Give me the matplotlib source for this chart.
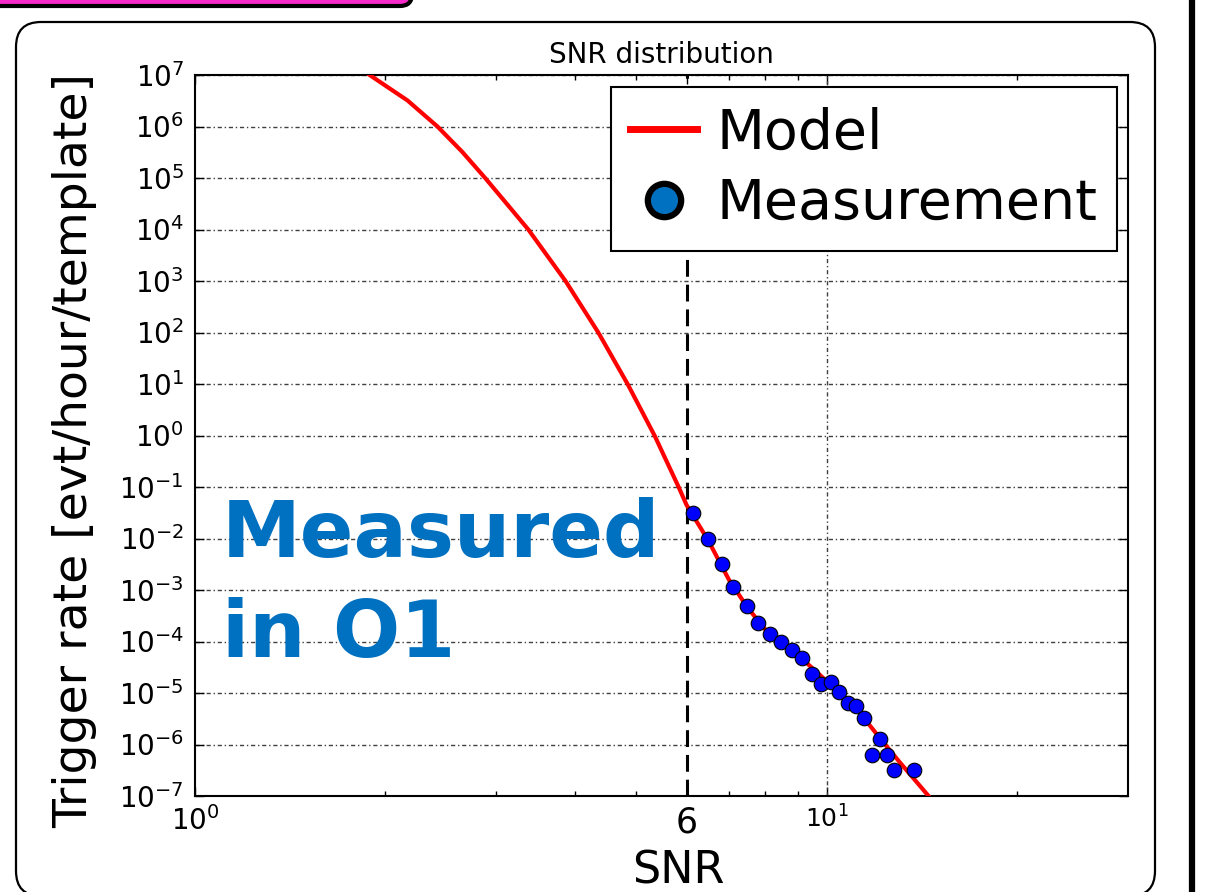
import matplotlib
matplotlib.use('Agg')
import matplotlib.pyplot as plt
from matplotlib.lines import Line2D
from matplotlib.patches import FancyBboxPatch
from matplotlib.transforms import IdentityTransform
from matplotlib.ticker import FixedLocator, NullLocator, NullFormatter

# --- data ---
snr_model = [1.80, 1.89, 2.17, 2.42, 2.65, 2.88, 3.37, 3.86, 4.35, 4.84, 5.34, 5.83, 6.0,
             6.5, 7.0, 7.5, 8.0, 9.0, 10.0, 11.0, 12.0, 13.0, 14.5, 15.0]
rate_model = [1.7e7, 1e7, 3.2e6, 1e6, 3.2e5, 1e5, 1e4, 1e3, 1e2, 1e1, 1e0, 1e-1, 4.5e-2,
              9e-3, 1.6e-3, 4.5e-4, 1.7e-4, 5.5e-5, 1.7e-5, 6e-6, 1.6e-6, 4.8e-7, 1e-7, 6e-8]

snr_meas = [6.15, 6.48, 6.82, 7.12, 7.47, 7.80, 8.12, 8.46, 8.80, 9.13, 9.47,
            9.78, 10.15, 10.45, 10.80, 11.15, 11.45, 12.13, 11.79, 12.45, 12.77, 13.74]
rate_meas = [3.1e-2, 9.8e-3, 3.2e-3, 1.15e-3, 4.9e-4, 2.3e-4, 1.4e-4, 9.8e-5, 6.8e-5, 4.8e-5, 2.3e-5,
             1.5e-5, 1.6e-5, 1.05e-5, 6.4e-6, 5.6e-6, 3.2e-6, 1.3e-6, 6.3e-7, 6.3e-7, 3.2e-7, 3.2e-7]

snr_threshold = 6
xtick_vals = [1, 6, 10]
xtick_labels = [r'$10^{0}$', '6', r'$10^{1}$']
xminor_vals = [2, 3, 4, 5, 7, 8, 9, 20]
ytick_vals = [10.0 ** k for k in range(-7, 8)]
legend_labels = ['Model', 'Measurement']

# --- figure ---
W, H = 1209, 892
plt.rcParams['mathtext.default'] = 'regular'
plt.rcParams['axes.unicode_minus'] = False
fig = plt.figure(figsize=(W / 100, H / 100), dpi=100)


def px(x, y):
    return x / W, 1 - y / H


ax = fig.add_axes([195 / W, 1 - 796 / H, (1128 - 195) / W, (796 - 75) / H])
ax.set_xscale('log')
ax.set_yscale('log')
ax.set_xlim(1, 30)
ax.set_ylim(1e-7, 1e7)

grid_style = dict(color='0.25', lw=1.0, ls=(0, (3, 2, 1, 2)))
ax.grid(axis='y', which='major', **grid_style)
ax.axvline(10, zorder=1, **grid_style)
ax.set_axisbelow(True)

ax.plot(snr_model, rate_model, color='red', lw=3, zorder=3)
ax.plot(snr_meas, rate_meas, 'o', color='blue', mec='black', mew=0.8, ms=10.5, zorder=4)
ax.axvline(snr_threshold, color='black', lw=2.2, dashes=(5.5, 2.6), zorder=2)

ax.set_yticks(ytick_vals)
ax.yaxis.set_minor_locator(NullLocator())
ax.set_xticks(xtick_vals)
ax.set_xticklabels(xtick_labels)
ax.xaxis.set_minor_locator(FixedLocator(xminor_vals))
ax.xaxis.set_minor_formatter(NullFormatter())
ax.tick_params(which='both', direction='in', top=True, right=True, labelsize=20)
ax.tick_params(which='major', length=6.5, width=1)
ax.tick_params(which='minor', length=3.5, width=1)
ax.tick_params(axis='y', pad=8)
ax.tick_params(axis='x', pad=7)
xl = ax.get_xticklabels()
xl[1].set_fontsize(25)
xl[2].set_fontsize(18)
for s in ax.spines.values():
    s.set_linewidth(1.5)

handles = [Line2D([], [], color='red', lw=5),
           Line2D([], [], ls='none', marker='o', ms=24, mfc='#0070C0', mec='black', mew=4.5)]
leg = ax.legend(handles, legend_labels, loc='upper right', bbox_to_anchor=px(1117, 87),
                bbox_transform=fig.transFigure, borderaxespad=0, fontsize=40,
                fancybox=False, edgecolor='black', framealpha=1, handlelength=1.2,
                handletextpad=0.35, labelspacing=0.3, borderpad=0.35)
leg.get_frame().set_linewidth(1.5)

# texts
fig.text(*px(661, 63), 'SNR distribution', ha='center', va='baseline', fontsize=20)
fig.text(*px(75, 451), 'Trigger rate [evt/hour/template]', rotation=90,
         ha='center', va='center', fontsize=34)
fig.text(*px(678, 883), 'SNR', ha='center', va='baseline', fontsize=32)
fig.text(*px(222, 557), 'Measured', fontsize=57, fontweight='bold', color='#0070C0',
         va='baseline')
fig.text(*px(222, 657), 'in O1', fontsize=57, fontweight='bold', color='#0070C0',
         va='baseline')

# slide decorations
frame = FancyBboxPatch((16, H - 896), 1155 - 16, 896 - 22,
                       boxstyle='round,pad=0,rounding_size=25', transform=IdentityTransform(),
                       fill=False, lw=1.6, ec='black')
fig.add_artist(frame)
bar = FancyBboxPatch((-40, H - 6), 452, 40, boxstyle='round,pad=0,rounding_size=12',
                     transform=IdentityTransform(), fc='#F52AC8', ec='black', lw=3)
fig.add_artist(bar)
fig.add_artist(Line2D([1192, 1192], [0, H], lw=4.5, color='black', transform=IdentityTransform()))

fig.savefig('out.png', dpi=100)
